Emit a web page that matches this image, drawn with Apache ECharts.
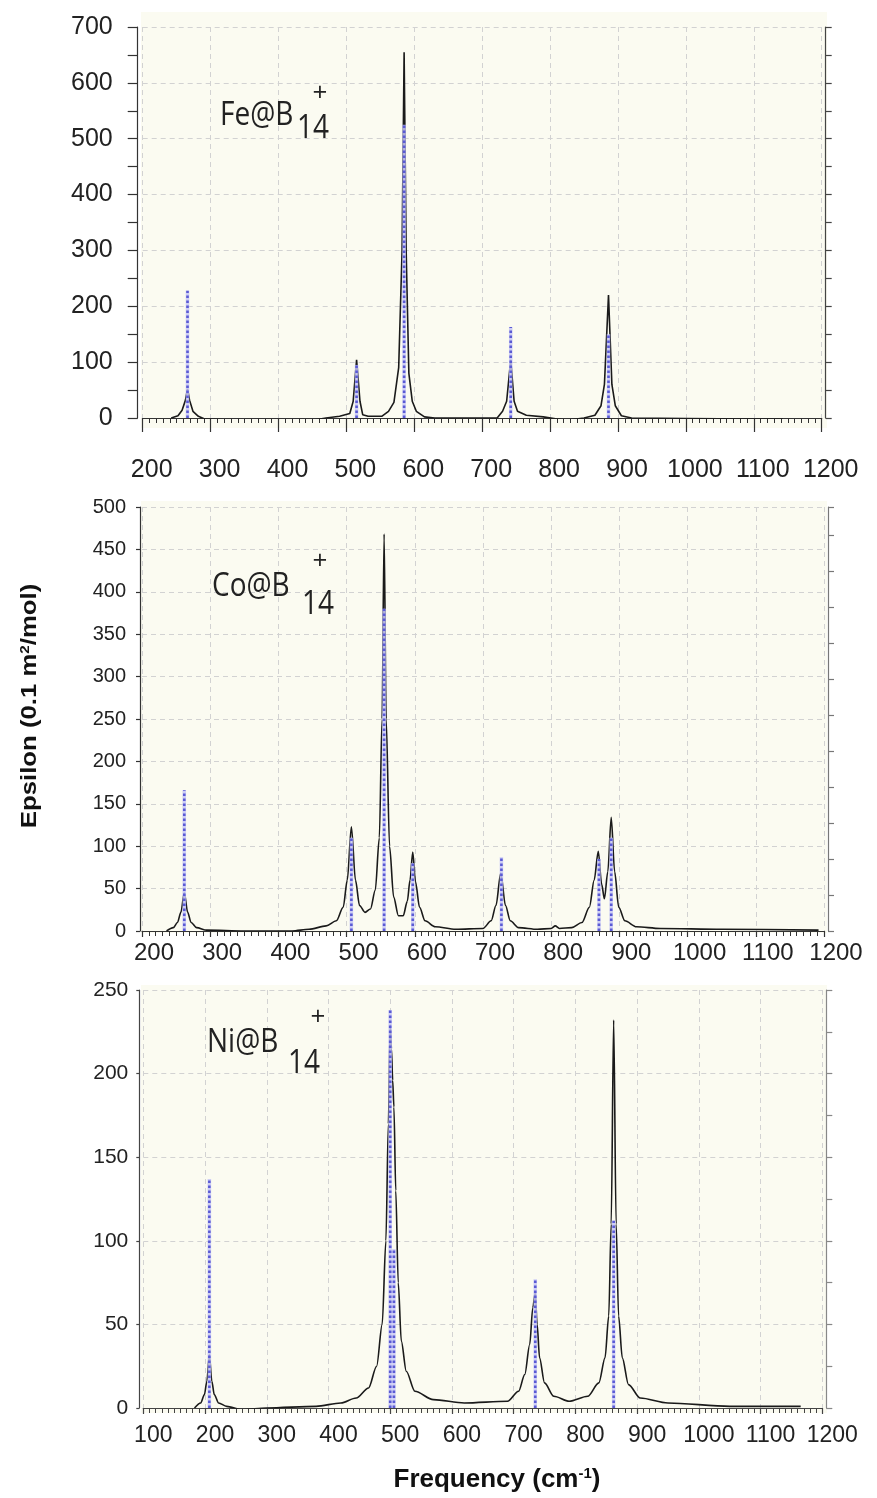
<!DOCTYPE html>
<html>
<head>
<meta charset="utf-8">
<script src="https://cdn.jsdelivr.net/npm/echarts@6/dist/echarts.min.js"></script>
<style>
  html, body { margin: 0; padding: 0; background: #ffffff; }
  #chart { width: 877px; height: 1498px; }
</style>
</head>
<body>
<div id="chart"></div>
<script>
// IR spectra of M@B14+ clusters: broadened curve (black) and calculated lines (dotted sticks)

// Fe@B14+ broadened spectrum [frequency, epsilon]
const feCurve = [
  [242,0],[252,4],[258,14],[263,32],[266,52],[269,32],[274,12],[282,3],[292,-2],[320,-3],[400,-3],[455,-3],
  [470,0],[490,3],[505,8],[510,30],[515,104],[520,30],[524,6],[532,3],[552,3],[562,12],[570,28],[577,90],
  [582,300],[585,655],[588,300],[592,80],[597,30],[603,12],[615,2],[630,0],[700,0],[722,0],[730,12],[736,30],
  [742,104],[747,30],[752,12],[765,5],[790,2],[810,-2],[825,-4],[850,0],[866,5],[875,22],[880,60],[886,220],
  [891,60],[896,22],[905,4],[920,0],[1000,-1],[1100,-2],[1143,-2]
];
// Fe@B14+ calculated lines [frequency, intensity]
const feSticks = [[266,228],[515,95],[585,525],[742,163],[886,150]];

// Co@B14+
const coCurve = [
  [236,0],[246,4],[252,10],[257,22],[262,45],[267,22],[272,10],[280,4],[295,1],[350,0],[420,0],[445,2],
  [470,6],[485,12],[495,28],[501,60],[507,123],[513,60],[519,30],[527,22],[535,26],[542,48],[548,110],
  [552,250],[555,468],[558,250],[563,100],[569,40],[576,18],[583,18],[589,35],[593,60],[597,93],[601,58],
  [607,28],[615,12],[630,5],[660,2],[700,3],[712,12],[719,30],[726,68],[733,30],[740,12],[752,4],[780,2],
  [800,3],[806,6],[812,3],[830,4],[845,10],[856,28],[863,60],[869,94],[874,55],[878,38],[883,70],[888,134],
  [893,70],[899,28],[908,12],[925,5],[960,3],[1050,2],[1192,1]
];
const coSticks = [[262,166],[507,110],[555,380],[597,80],[727,87],[870,85],[888,110]];

// Ni@B14+
const niCurve = [
  [183,0],[193,3],[199,8],[203,16],[207,32],[211,16],[215,8],[222,3],[235,1],[260,-1],[300,0],[380,1],
  [420,3],[445,6],[465,12],[478,25],[487,50],[493,100],[497,170],[500,229],[502,215],[504,196],[506,180],
  [509,130],[513,75],[518,40],[526,22],[540,10],[570,5],[620,3],[690,4],[708,10],[718,20],[726,38],
  [731,60],[735,69],[738,50],[742,30],[750,15],[765,7],[790,4],[820,7],[838,15],[848,30],[854,55],
  [858,110],[862,232],[866,110],[870,55],[876,30],[886,14],[905,6],[950,3],[1050,1],[1165,1]
];
const niSticks = [[207,137],[500,238],[506,95],[735,77],[862,112]];

// Axis ranges
const xRanges = [[200, 1200], [200, 1200], [100, 1200]];
const yRanges = [[0, 700, 100], [0, 500, 50], [0, 250, 50]];

const numFont = "'Liberation Sans', Arial, sans-serif";
const textFont = "'Open Sans', 'Noto Sans', sans-serif";

// Panel layout (pixels)
const panels = [
  { left: 142.7, top: 27, width: 679, height: 391, xOff: 16, yOff: 5, xFont: 25, xPad: 18, xMargin: 24, yFont: 25, yMargin: 25,
    majLen: 14, yTick: 10, yMinor: 2, rightMax: 700, rightInt: 50, axisColor: '#333', rightColor: '#444',
    bg: [141, 12, 686, 416], smooth: false },
  { left: 142, top: 507, width: 682, height: 424, xOff: 4, yOff: 2, xFont: 24, xPad: 24, xMargin: 6, yFont: 20, yMargin: 14,
    majLen: 6, yTick: 4, yMinor: 0, rightMax: 118, rightInt: 10, axisColor: '#333', rightColor: '#777',
    bg: [141, 501, 686, 432], smooth: 0.3 },
  { left: 143.3, top: 990, width: 679, height: 418, xOff: 8, yOff: 4, xFont: 23, xPad: 20, xMargin: 8, yFont: 21, yMargin: 11,
    majLen: 6, yTick: 3, yMinor: 0, rightMax: 250, rightInt: 25, axisColor: '#444', rightColor: '#888',
    bg: [141, 985, 686, 428], smooth: 0.3 }
];

const gridLine = { show: true, lineStyle: { color: '#d2d2d2', type: [5, 4], width: 1 } };

const grids = [], xAxes = [], yAxes = [], series = [];
panels.forEach((p, i) => {
  grids.push({ left: p.left, top: p.top, width: p.width, height: p.height });
  xAxes.push({
    type: 'value', gridIndex: i, min: xRanges[i][0], max: xRanges[i][1], interval: 100,
    position: 'bottom', offset: p.xOff,
    axisLine: { show: true, lineStyle: { color: p.axisColor, width: 1.2 } },
    axisTick: { show: true, length: p.majLen, lineStyle: { color: p.axisColor, width: 1.2 } },
    minorTick: { show: true, splitNumber: 10, length: 5, lineStyle: { color: p.axisColor, width: 1 } },
    axisLabel: { show: true, interval: 0, hideOverlap: false, fontFamily: numFont, fontSize: p.xFont, color: '#222',
                 margin: p.xMargin, padding: [0, 0, 0, p.xPad], showMinLabel: true, showMaxLabel: true,
                 formatter: v => String(v) },
    splitLine: gridLine, minorSplitLine: { show: false }
  });
  yAxes.push({
    type: 'value', gridIndex: i, min: yRanges[i][0], max: yRanges[i][1], interval: yRanges[i][2],
    position: 'left', offset: p.yOff,
    axisLine: { show: true, lineStyle: { color: p.axisColor, width: 1.2 } },
    axisTick: { show: true, length: p.yTick, lineStyle: { color: p.axisColor, width: 1.2 } },
    minorTick: { show: p.yMinor > 0, splitNumber: p.yMinor || 5, length: p.yTick, lineStyle: { color: p.axisColor, width: 1.2 } },
    axisLabel: { show: true, fontFamily: numFont, fontSize: p.yFont, color: '#222', margin: p.yMargin,
                 formatter: v => String(v) },
    splitLine: gridLine
  });
  yAxes.push({
    type: 'value', gridIndex: i, min: 0, max: p.rightMax, interval: p.rightInt,
    position: 'right', offset: 4,
    axisLine: { show: true, lineStyle: { color: p.rightColor, width: 1.2 } },
    axisTick: { show: true, length: 6, lineStyle: { color: p.rightColor, width: 1.2 } },
    axisLabel: { show: false }, splitLine: { show: false }
  });
});

const curves = [feCurve, coCurve, niCurve];
const sticks = [feSticks, coSticks, niSticks];

function renderStick(params, api) {
  const x = api.value(0), h = api.value(1);
  const p0 = api.coord([x, 0]);
  const p1 = api.coord([x, h]);
  const shape = { x1: p0[0], y1: p0[1], x2: p1[0], y2: p1[1] };
  return {
    type: 'group',
    children: [
      { type: 'line', shape: shape, style: { stroke: 'rgba(196,196,246,0.85)', lineWidth: 3.5 } },
      { type: 'line', shape: shape, style: { stroke: '#5a5ad4', lineWidth: 2.6, lineDash: [2.5, 2.5] } }
    ]
  };
}

for (let i = 0; i < 3; i++) {
  series.push({
    type: 'line', xAxisIndex: i, yAxisIndex: 2 * i, data: curves[i],
    showSymbol: false, symbol: 'none', smooth: panels[i].smooth, smoothMonotone: 'x', z: 3,
    lineStyle: { color: '#1a1a1a', width: 1.6 }, silent: true, animation: false
  });
  series.push({
    type: 'custom', xAxisIndex: i, yAxisIndex: 2 * i, data: sticks[i],
    renderItem: renderStick, encode: { x: 0, y: 1 }, z: 4, silent: true, animation: false
  });
}

// Panel backgrounds and annotations
const graphics = [];
panels.forEach(p => {
  graphics.push({ type: 'rect', z: -10, silent: true,
    shape: { x: p.bg[0], y: p.bg[1], width: p.bg[2], height: p.bg[3] },
    style: { fill: '#fbfbf1' } });
});

const formulas = [
  { name: 'Fe@B', main: [220, 116], sub: [297, 129], plus: [320, 94] },
  { name: 'Co@B', main: [212, 587], sub: [302, 605], plus: [320, 562] },
  { name: 'Ni@B', main: [207, 1043], sub: [288, 1064], plus: [318, 1018] }
];
formulas.forEach(f => {
  graphics.push({ type: 'text', x: f.main[0], y: f.main[1], scaleY: 1.15, z: 20,
    style: { text: f.name, font: "28px " + textFont, fill: '#222', verticalAlign: 'middle', align: 'left' } });
  graphics.push({ type: 'text', x: f.sub[0], y: f.sub[1], scaleY: 1.15, z: 20,
    style: { text: '14', font: "28px " + textFont, fill: '#222', verticalAlign: 'middle', align: 'left' } });
  graphics.push({ type: 'text', x: f.plus[0], y: f.plus[1], z: 20,
    style: { text: '+', font: "26px " + textFont, fill: '#222', verticalAlign: 'middle', align: 'center' } });
});

// Axis titles
graphics.push({ type: 'text', x: 30, y: 706, rotation: Math.PI / 2, scaleX: 1.17, z: 20,
  style: { text: 'Epsilon (0.1 m{s|2}/mol)', rich: { s: { font: "bold 13px " + numFont, verticalAlign: 'bottom', padding: [0, 0, 9, 0] } },
           font: "bold 22px " + numFont, fill: '#111', align: 'center', verticalAlign: 'middle' } });
graphics.push({ type: 'text', x: 497, y: 1480, z: 20,
  style: { text: 'Frequency (cm{s|-1})', rich: { s: { font: "bold 15px " + numFont, verticalAlign: 'bottom', padding: [0, 0, 12, 0] } },
           font: "bold 26px " + numFont, fill: '#111', align: 'center', verticalAlign: 'middle' } });

const chart = echarts.init(document.getElementById('chart'), null, { renderer: 'canvas' });
chart.setOption({
  animation: false,
  backgroundColor: '#ffffff',
  grid: grids,
  xAxis: xAxes,
  yAxis: yAxes,
  series: series,
  graphic: graphics
});
</script>
</body>
</html>
